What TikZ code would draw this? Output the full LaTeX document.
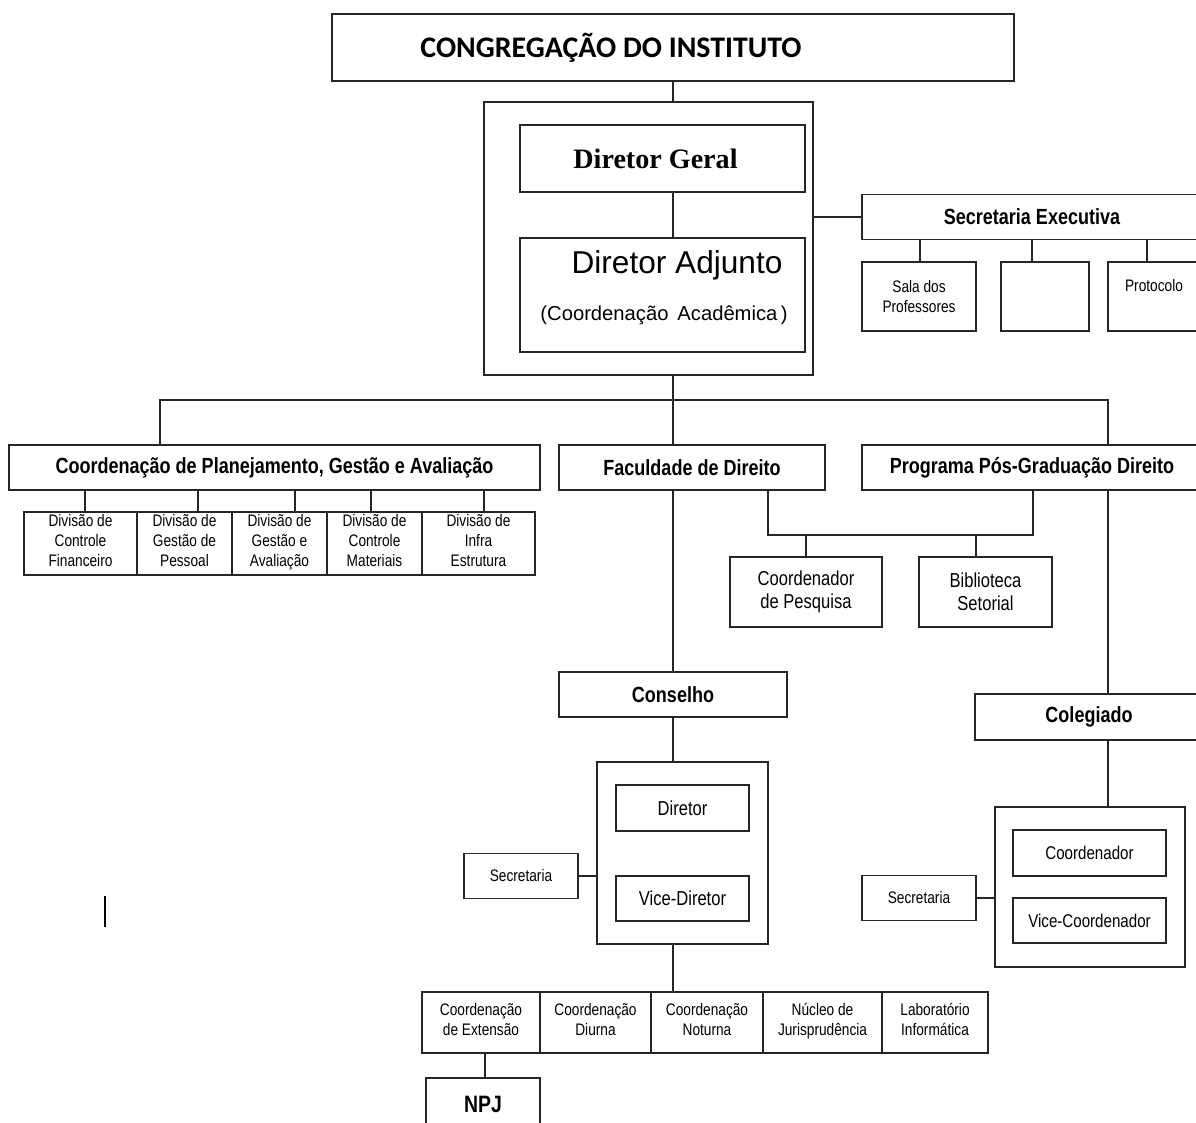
\documentclass[tikz,border=0pt]{standalone}
\usepackage{fontspec}
\setmainfont{Liberation Sans}
\newfontfamily\estreita[FakeStretch=0.82]{Liberation Sans}
\newfontfamily\titulofont{Carlito}
\newfontfamily\serifa{Liberation Serif}

\tikzset{
  caixa/.style={draw=black!85, line width=1.1pt, inner sep=0pt, align=center, font={\estreita\fontsize{9.5}{11.3}\selectfont}},
  tam/.style 2 args={minimum width=#1*0.02cm, minimum height=#2*0.02cm},
  cabeca/.style={font={\estreita\bfseries\fontsize{12.5}{14}\selectfont}},
  medio/.style={font={\estreita\fontsize{11.5}{13}\selectfont}},
  linha/.style={draw=black!85, line width=1.1pt},
}

\begin{document}
\begin{tikzpicture}[x=0.02cm, y=-0.02cm]
\clip (0,0) rectangle (1196,1122);

\coordinate (barra) at (673,400);
\coordinate (bE) at (160,400);
\coordinate (bD) at (1108,400);

\node[caixa, tam={682}{67}] (congreg) at (673,47.5) {};
\node[font={\titulofont\bfseries\fontsize{17}{20}\selectfont}] (congregtxt) at (611,47.5) {CONGREGAÇÃO DO INSTITUTO};

\node[caixa, tam={329}{273}] (direcao) at (648.5,238.5) {};
\node[caixa, tam={285}{67}, font={\serifa\bfseries\fontsize{16}{18}\selectfont}] (dirgeral) at (662.5,158.5) {\hspace*{-0.28cm}Diretor Geral};
\node[caixa, tam={285}{114}] (diradj) at (662.5,295) {};
\node[font={\fontsize{18}{20}\selectfont}] (diradjtxt) at (677,265) {Diretor Adjunto};
\node[font={\fontsize{11.5}{14}\selectfont}] (coordacad) at (664,315) {(Coordenação\, Acadêmica\,)};

\draw[linha] (congreg.south -| barra) -- (direcao.north -| barra);
\draw[linha] (dirgeral.south -| barra) -- (diradj.north -| barra);

\node[caixa, cabeca, tam={340}{45}] (secexec) at (1032,217) {Secretaria Executiva};
\node[caixa, tam={114}{69}] (sala) at (919,296.5) {Sala dos\\Professores};
\node[caixa, tam={88}{69}] (vazio) at (1045,296.5) {};
\node[caixa, tam={92}{69}, text depth=0.45cm] (protocolo) at (1154,296.5) {Protocolo};
\draw[linha] (direcao.east |- secexec) -- (secexec);
\foreach \n/\x in {sala/920, vazio/1032, protocolo/1147}
  \draw[linha] (secexec.south -| \x,0) -- (\n.north -| \x,0);

\node[caixa, cabeca, tam={531}{45}] (coordplan) at (274.5,467.5) {Coordenação de Planejamento, Gestão e Avaliação};
\node[caixa, cabeca, tam={266}{45}] (facdir) at (692,467.5) {Faculdade de Direito};
\node[caixa, cabeca, tam={340}{45}] (progpos) at (1032,467.5) {Programa Pós-Graduação Direito};

\draw[linha] (direcao.south -| barra) -- (barra);
\draw[linha] (coordplan.north -| bE) -- (bE) -- (bD) -- (progpos.north -| bD);
\draw[linha] (barra) -- (facdir.north -| barra);

\node[caixa, tam={113}{63}] (d1) at (80.5,543.5) {Divisão de\\Controle\\Financeiro\strut};
\node[caixa, tam={95}{63}] (d2) at (184.5,543.5) {Divisão de\\Gestão de\\Pessoal\strut};
\node[caixa, tam={95}{63}] (d3) at (279.5,543.5) {Divisão de\\Gestão e\\Avaliação\strut};
\node[caixa, tam={95}{63}] (d4) at (374.5,543.5) {Divisão de\\Controle\\Materiais\strut};
\node[caixa, tam={113}{63}] (d5) at (478.5,543.5) {Divisão de\\Infra\\Estrutura\strut};
\foreach \n/\x in {d1/85, d2/198, d3/295, d4/371, d5/484}
  \draw[linha] (coordplan.south -| \x,0) -- (\n.north -| \x,0);

\node[caixa, medio, tam={152}{70}] (coordpesq) at (806,592) {Coordenador\\de Pesquisa};
\node[caixa, medio, tam={133}{70}] (biblio) at (985.5,592) {Biblioteca\\Setorial};
\coordinate (pesqE) at (768,535);
\coordinate (pesqD) at (1033,535);
\draw[linha] (facdir.south -| pesqE) -- (pesqE) -- (pesqD) -- (progpos.south -| pesqD);
\draw[linha] (coordpesq.north |- pesqE) -- (coordpesq.north);
\draw[linha] (pesqE -| 976,0) -- (biblio.north -| 976,0);

\node[caixa, cabeca, tam={228}{45}] (conselho) at (673,694.5) {Conselho};
\node[caixa, tam={171}{182}] (dirbox) at (682.5,853) {};
\node[caixa, medio, tam={133}{46}] (diretor) at (682.5,808) {Diretor};
\node[caixa, medio, tam={133}{45}] (vicedir) at (682.5,898.5) {Vice-Diretor};
\node[caixa, tam={114}{45}] (sec1) at (521,876) {Secretaria};
\draw[linha] (facdir.south -| barra) -- (conselho);
\draw[linha] (conselho.south) -- (dirbox.north -| conselho.south);
\draw[linha] (sec1) -- (sec1 -| dirbox.west);

\node[caixa, cabeca, tam={228}{46}] (colegiado) at (1089,717) {Colegiado};
\node[caixa, tam={190}{160}] (colbox) at (1090,887) {};
\node[caixa, font={\estreita\fontsize{10.5}{12}\selectfont}, tam={153}{46}] (coordenador) at (1089.5,853) {Coordenador};
\node[caixa, font={\estreita\fontsize{10.5}{12}\selectfont}, tam={153}{45}] (vicecoord) at (1089.5,920.5) {Vice-Coordenador};
\node[caixa, tam={114}{45}] (sec2) at (919,898) {Secretaria};
\draw[linha] (progpos.south -| bD) -- (colegiado.north -| bD);
\draw[linha] (colegiado.south -| bD) -- (colbox.north -| bD);
\draw[linha] (sec2) -- (sec2 -| colbox.west);

\node[caixa, tam={118}{61}] (cn1) at (481,1022.5) {Coordenação\\de Extensão\strut};
\node[caixa, tam={111}{61}] (cn2) at (595.5,1022.5) {Coordenação\\Diurna\strut};
\node[caixa, tam={112}{61}] (cn3) at (707,1022.5) {Coordenação\\Noturna\strut};
\node[caixa, tam={119}{61}] (cn4) at (822.5,1022.5) {Núcleo de\\Jurisprudência\strut};
\node[caixa, tam={106}{61}] (cn5) at (935,1022.5) {Laboratório\\Informática\strut};
\draw[linha] (dirbox.south -| barra) -- (cn3.north -| barra);

\node[caixa, font={\estreita\bfseries\fontsize{13.5}{15}\selectfont}, tam={114}{62}, text depth=0.2cm] (npj) at (483,1109) {NPJ};
\draw[linha] (cn1.south -| 485,0) -- (npj.north -| 485,0);

\draw[line width=1.7pt] (105,896) -- (105,927);
\end{tikzpicture}
\end{document}
